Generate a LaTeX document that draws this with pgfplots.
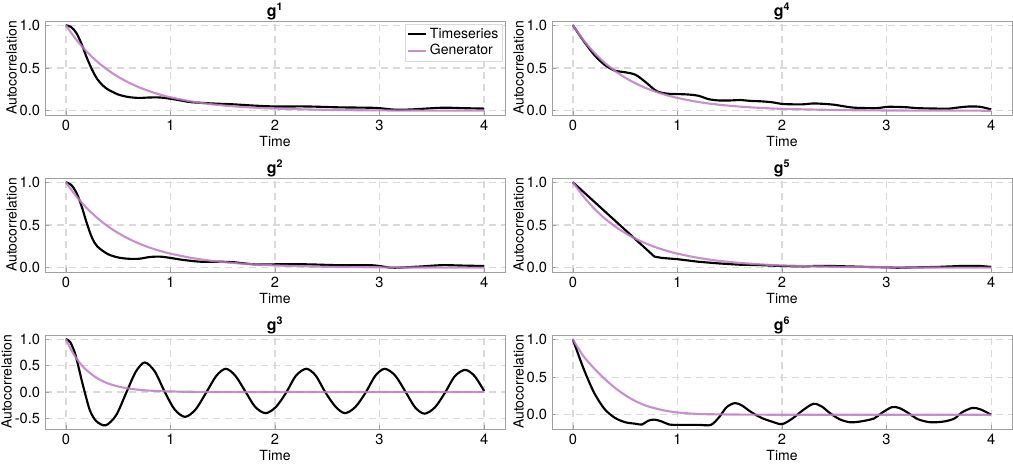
\documentclass[border=0pt]{standalone}
\usepackage{fontspec}
\setmainfont{TeX Gyre Heros}
\usepackage{pgfplots}
\pgfplotsset{compat=1.18}

\definecolor{gen}{RGB}{192,124,198}
\definecolor{frame}{RGB}{160,160,160}
\definecolor{gridc}{RGB}{218,218,218}

\pgfplotsset{
  panel/.style={
    scale only axis,
    width=345pt, height=70.5pt,
    anchor=north west,
    xmin=-0.2, xmax=4.2,
    ymin=-0.05, ymax=1.05,
    xtick={0,1,2,3,4},
    ytick={0,0.5,1},
    axis line style={frame, line width=0.6pt},
    tick style={frame, line width=0.6pt},
    major tick length=3pt,
    tick pos=left,
    tick align=inside,
    grid=major,
    major grid style={gridc, line width=0.9pt, dash pattern=on 5pt off 4pt},
    xlabel={Time},
    ylabel={Autocorrelation},
    xlabel style={yshift=3pt},
    ylabel style={yshift=-5pt},
    title style={font=\fontsize{12}{14}\selectfont\bfseries, at={(0.5,1)}, anchor=base, yshift=-2.5pt},
    /pgf/number format/assume math mode=true,
    yticklabel style={/pgf/number format/.cd, fixed, fixed zerofill, precision=1},
    xticklabel style={/pgf/number format/.cd, fixed, precision=0},
    label style={font=\fontsize{10.5}{12}\selectfont},
    tick label style={font=\fontsize{11}{12}\selectfont},
    legend style={draw=gridc, font=\fontsize{10.5}{12}\selectfont, at={(0.995,0.97)}, anchor=north east,
      inner sep=1pt, row sep=-1pt},
    legend cell align=left,
    legend image post style={line width=1.6pt},
    legend image code/.code={\draw[#1] (0pt,0pt) -- (14pt,0pt);},
  },
  ts/.style={black, line width=1.6pt, smooth, tension=0.5},
  gn/.style={gen, line width=1.6pt, opacity=0.85, smooth, tension=0.5},
}

\begin{document}
\fontsize{10.5}{12}\selectfont
\begin{tikzpicture}
\useasboundingbox (0,0) rectangle (759.75pt,-348pt);

% g1
\begin{axis}[panel, at={(33.75pt,-15.75pt)}, title={g\textsuperscript{1}}]
\addplot[ts] coordinates {
(0,1.0) (0.05,0.98) (0.1,0.91) (0.15,0.78) (0.2,0.62) (0.25,0.48) (0.3,0.37) (0.35,0.30) (0.4,0.25)
(0.5,0.19) (0.6,0.16) (0.7,0.15) (0.8,0.155) (0.9,0.155) (1.0,0.14) (1.1,0.12) (1.2,0.10)
(1.4,0.085) (1.6,0.075) (1.8,0.06) (2.0,0.05) (2.3,0.05) (2.6,0.04) (2.9,0.035) (3.0,0.03)
(3.15,0.012) (3.3,0.015) (3.6,0.035) (3.8,0.03) (4.0,0.025)};
\addlegendentry{Timeseries}
\addplot[gn] coordinates {
(0,1.0) (0.1,0.831) (0.2,0.691) (0.3,0.574) (0.4,0.477) (0.5,0.397) (0.6,0.330) (0.7,0.274)
(0.8,0.228) (0.9,0.189) (1.0,0.157) (1.2,0.109) (1.4,0.075) (1.6,0.052) (1.8,0.036) (2.0,0.025)
(2.5,0.010) (3.0,0.004) (3.5,0.0015) (4.0,0.0006)};
\addlegendentry{Generator}
\end{axis}

% g2
\begin{axis}[panel, at={(33.75pt,-133.5pt)}, title={g\textsuperscript{2}}]
\addplot[ts] coordinates {
(0,1.0) (0.05,0.97) (0.1,0.88) (0.15,0.72) (0.2,0.52) (0.25,0.35) (0.3,0.25) (0.4,0.16)
(0.5,0.12) (0.6,0.105) (0.7,0.105) (0.8,0.125) (0.9,0.13) (1.0,0.115) (1.1,0.095) (1.2,0.08)
(1.3,0.07) (1.5,0.07) (1.6,0.065) (1.8,0.04) (2.0,0.04) (2.3,0.04) (2.6,0.03) (2.9,0.03)
(3.0,0.02) (3.1,0.002) (3.2,0.002) (3.4,0.015) (3.6,0.03) (3.8,0.025) (4.0,0.02)};
\addplot[gn] coordinates {
(0,1.0) (0.1,0.835) (0.2,0.697) (0.3,0.582) (0.4,0.486) (0.5,0.406) (0.6,0.339) (0.7,0.283)
(0.8,0.236) (0.9,0.197) (1.0,0.165) (1.2,0.115) (1.4,0.080) (1.6,0.056) (1.8,0.039) (2.0,0.027)
(2.5,0.011) (3.0,0.005) (3.5,0.002) (4.0,0.001)};
\end{axis}

% g3
\begin{axis}[panel, at={(33.75pt,-251.25pt)}, title={g\textsuperscript{3}},
  ymin=-0.70, ymax=1.08, ytick={-0.5,0,0.5,1}]
\addplot[ts] coordinates {
(0,1.0) (0.04,0.95) (0.086,0.74) (0.12,0.48) (0.15,0.23) (0.18,0.0) (0.23,-0.35) (0.29,-0.55)
(0.38,-0.63) (0.48,-0.44) (0.58,0.0) (0.67,0.39) (0.755,0.56) (0.85,0.39) (0.946,0.0)
(1.04,-0.33) (1.14,-0.47) (1.24,-0.33)
(1.345,0.0) (1.44,0.31) (1.53,0.44) (1.62,0.31) (1.72,0.0) (1.81,-0.28) (1.91,-0.40) (2.01,-0.28)
(2.11,0.0) (2.2,0.31) (2.3,0.44) (2.39,0.31) (2.48,0.0) (2.58,-0.28) (2.67,-0.40) (2.77,-0.28)
(2.87,0.0) (2.96,0.31) (3.05,0.44) (3.15,0.31) (3.25,0.0) (3.34,-0.29) (3.43,-0.41) (3.53,-0.29)
(3.63,0.0) (3.72,0.30) (3.82,0.42) (3.91,0.30) (4.0,0.02)};
\addplot[gn] coordinates {
(0,1.0) (0.05,0.80) (0.1,0.64) (0.15,0.51) (0.2,0.41) (0.3,0.26) (0.4,0.165) (0.5,0.105)
(0.6,0.067) (0.7,0.043) (0.8,0.027) (1.0,0.011) (1.2,0.0045) (1.5,0.001) (2.0,0.0) (3.0,0.0) (4.0,0.0)};
\end{axis}

% g4
\begin{axis}[panel, at={(414pt,-15.75pt)}, title={g\textsuperscript{4}}]
\addplot[ts] coordinates {
(0,1.0) (0.1,0.82) (0.2,0.66) (0.3,0.54) (0.4,0.47) (0.5,0.45) (0.6,0.42) (0.7,0.33)
(0.8,0.23) (0.9,0.20) (1.0,0.195) (1.1,0.19) (1.2,0.175) (1.3,0.135) (1.4,0.12) (1.5,0.12)
(1.6,0.125) (1.7,0.115) (1.8,0.11) (1.9,0.10) (2.0,0.08) (2.1,0.075) (2.2,0.075) (2.3,0.085)
(2.4,0.08) (2.5,0.07) (2.6,0.05) (2.7,0.035) (2.9,0.03) (3.0,0.045) (3.1,0.045) (3.2,0.04)
(3.3,0.03) (3.5,0.025) (3.6,0.025) (3.7,0.04) (3.8,0.05) (3.9,0.045) (4.0,0.015)};
\addplot[gn] coordinates {
(0,1.0) (0.1,0.827) (0.2,0.684) (0.3,0.566) (0.4,0.468) (0.5,0.387) (0.6,0.320) (0.7,0.264)
(0.8,0.219) (0.9,0.181) (1.0,0.150) (1.2,0.102) (1.4,0.070) (1.6,0.048) (1.8,0.033) (2.0,0.022)
(2.5,0.009) (3.0,0.003) (3.5,0.001) (4.0,0.0005)};
\end{axis}

% g5
\begin{axis}[panel, at={(414pt,-133.5pt)}, title={g\textsuperscript{5}}]
\addplot[black, line width=1.6pt] coordinates {
(0,1.0) (0.78,0.13) (0.85,0.115) (1.0,0.10) (1.2,0.07) (1.4,0.05) (1.6,0.035) (1.8,0.03)
(2.0,0.02) (2.2,0.015) (2.3,0.02) (2.5,0.02) (2.8,0.01) (3.0,0.005) (3.1,0.0) (3.3,0.005)
(3.5,0.01) (3.7,0.02) (3.9,0.02) (4.0,0.01)};
\addplot[gn] coordinates {
(0,1.0) (0.1,0.835) (0.2,0.697) (0.3,0.582) (0.4,0.486) (0.5,0.406) (0.6,0.339) (0.7,0.283)
(0.8,0.236) (0.9,0.197) (1.0,0.165) (1.2,0.115) (1.4,0.080) (1.6,0.056) (1.8,0.039) (2.0,0.027)
(2.5,0.011) (3.0,0.005) (3.5,0.002) (4.0,0.001)};
\end{axis}

% g6
\begin{axis}[panel, at={(414pt,-251.25pt)}, title={g\textsuperscript{6}},
  ymin=-0.19, ymax=1.06]
\addplot[ts] coordinates {
(0,1.0) (0.1,0.62) (0.2,0.30) (0.3,0.08) (0.4,-0.04) (0.5,-0.10) (0.6,-0.12) (0.66,-0.13)
(0.72,-0.08) (0.78,-0.065) (0.85,-0.09) (0.92,-0.13) (1.0,-0.135) (1.2,-0.135) (1.32,-0.135)
(1.4,-0.03) (1.47,0.10) (1.55,0.155) (1.62,0.12) (1.7,0.04) (1.8,-0.04) (1.9,-0.09) (2.0,-0.125)
(2.1,-0.05) (2.2,0.06) (2.3,0.145) (2.38,0.11) (2.45,0.03) (2.55,-0.06) (2.65,-0.10) (2.75,-0.09)
(2.88,-0.05) (2.95,0.02) (3.05,0.10) (3.12,0.09) (3.2,0.03) (3.3,-0.06) (3.42,-0.10) (3.55,-0.09)
(3.65,-0.05) (3.72,0.03) (3.82,0.09) (3.9,0.07) (4.0,0.0)};
\addplot[gn] coordinates {
(0,1.0) (0.1,0.78) (0.2,0.62) (0.3,0.48) (0.4,0.36) (0.5,0.26) (0.6,0.18) (0.7,0.12)
(0.8,0.08) (0.9,0.05) (1.0,0.03) (1.2,0.01) (1.5,0.003) (2.0,0.0) (3.0,0.0) (4.0,0.0)};
\end{axis}
\end{tikzpicture}
\end{document}
